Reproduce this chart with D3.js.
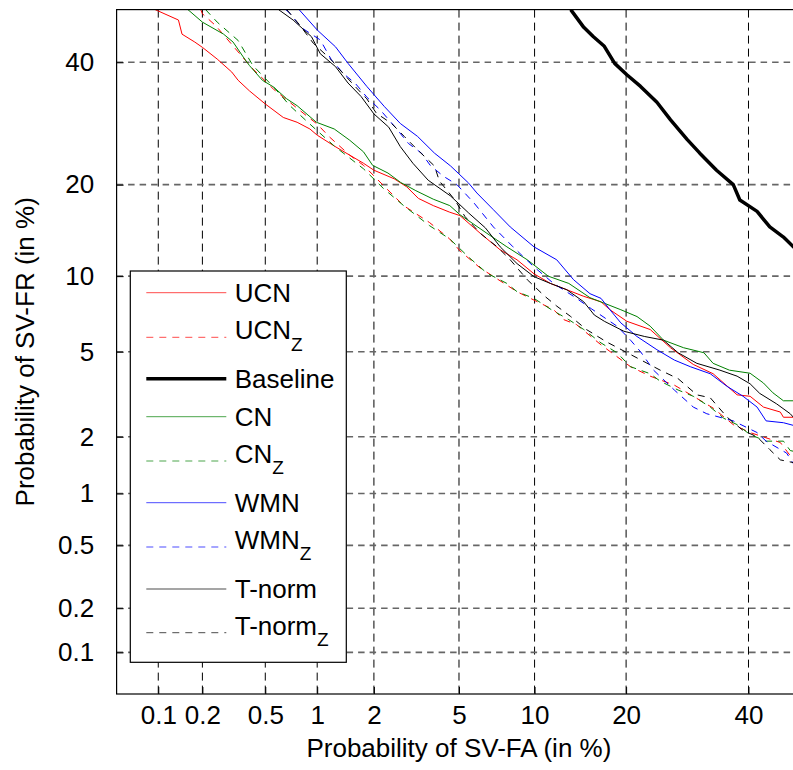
<!DOCTYPE html>
<html>
<head>
<meta charset="utf-8">
<script src="https://cdn.jsdelivr.net/npm/d3@7"></script>
<style>
  html, body { margin: 0; padding: 0; background: #fff; }
  svg { display: block; }
  text { font-family: "Liberation Sans", Arial, sans-serif; fill: #000; }
</style>
</head>
<body>
<svg id="chart" width="793" height="770"></svg>
<script>
// ---------- DATA (values in %: [P(SV-FA), P(SV-FR)]) ----------
const xTickValues = [0.1, 0.2, 0.5, 1, 2, 5, 10, 20, 40];
const yTickValues = [0.1, 0.2, 0.5, 1, 2, 5, 10, 20, 40];
const axisDomain = [0.05, 50];

const ucn = [[0.095,50],[0.138,48],[0.146,45.3],[0.178,43.8],[0.2,42.8],[0.25,40.6],[0.31,38.2],[0.34,36.7],[0.4,34.8],[0.5,32.5],[0.64,30.2],[0.77,29.4],[0.91,28.3],[1.0,27.3],[1.24,25.6],[1.5,24.2],[1.77,23.0],[2.0,22.0],[2.52,20.8],[2.9,19.7],[3.29,18.2],[3.85,17.3],[4.56,16.5],[5.05,16.1],[6.15,14.1],[7.4,12.4],[8.6,11.45],[9.95,10.2],[11.4,9.4],[13.0,8.9],[14.8,8.4],[16.8,8.0],[17.9,7.45],[20.1,6.7],[23.4,6.2],[26.5,5.2],[30.2,4.4],[33.6,4.0],[37.9,3.2],[40.3,3.15],[42.8,2.8],[46.0,2.65],[46.6,2.5],[50,2.5]];
const ucnZ = [[0.195,50],[0.2,49.2],[0.245,46.9],[0.41,39.1],[0.56,35.1],[0.87,30.5],[1.0,29.1],[1.17,27.0],[1.5,24.2],[1.77,22.7],[2.23,19.9],[2.8,17.3],[3.7,15.3],[4.56,13.5],[5.05,12.3],[6.15,10.7],[8.6,8.75],[10.5,7.9],[11.7,7.45],[12.7,6.8],[14.0,6.5],[16.8,5.35],[20.6,4.3],[23.4,3.9],[27.1,3.55],[30.2,3.15],[33.6,2.77],[37.2,2.3],[40.3,2.1],[46.0,1.87],[48.5,1.52],[50,1.5]];
const baseline = [[13.4,50],[14.8,46.6],[15.9,44.8],[17.2,43.0],[18.5,39.8],[20.1,37.7],[22.0,35.6],[24.4,32.8],[26.5,29.8],[29.2,26.6],[31.3,24.5],[34.2,22.0],[37.2,20.0],[38.4,18.0],[41.6,16.6],[44.0,14.8],[46.6,13.7],[48.5,12.7],[50,12.2]];
const cn = [[0.16,50],[0.2,47.6],[0.275,45.3],[0.316,43.8],[0.366,41.0],[0.4,39.4],[0.48,36.7],[0.56,35.5],[0.67,33.4],[0.77,32.2],[0.99,29.4],[1.24,28.3],[1.5,26.5],[1.77,24.7],[1.97,22.7],[2.35,21.6],[2.71,20.3],[3.2,19.2],[3.85,18.1],[4.56,17.3],[5.05,16.2],[6.55,14.1],[7.86,12.7],[9.4,11.45],[11.2,10.0],[13.2,9.4],[15.5,8.3],[17.2,7.9],[19.3,7.45],[21.5,7.0],[23.4,6.4],[25.4,5.6],[28.6,5.2],[32.0,4.95],[33.6,4.45],[36.5,4.15],[40.3,4.02],[42.8,3.63],[44.6,3.27],[46.6,3.0],[50,3.0]];
const cnZ = [[0.21,50],[0.25,47.6],[0.34,44.1],[0.42,39.4],[0.56,35.5],[0.7,32.2],[0.91,29.1],[1.24,25.6],[1.77,22.2],[2.23,19.5],[2.8,17.3],[3.7,14.95],[4.56,13.5],[5.5,11.7],[6.55,10.25],[7.86,9.4],[8.6,8.75],[9.95,8.25],[11.5,7.45],[13.2,6.8],[14.8,6.2],[16.8,5.45],[18.8,4.95],[20.6,4.3],[23.4,4.0],[24.9,3.7],[27.7,3.37],[30.2,3.15],[33.1,2.8],[35.5,2.47],[37.9,2.3],[40.3,2.05],[43.3,1.9],[46.6,1.9],[47.9,1.7],[50,1.65]];
const wmn = [[0.79,50],[1.0,46.1],[1.26,42.9],[1.47,39.8],[1.84,35.6],[2.25,32.1],[2.7,29.2],[3.26,27.1],[3.9,24.5],[4.6,22.6],[5.5,20.2],[5.95,18.9],[6.95,16.8],[8.1,14.8],[9.95,12.7],[12.0,11.45],[13.7,9.7],[15.5,8.6],[16.8,8.25],[17.9,7.45],[19.3,6.6],[21.5,5.8],[24.4,5.1],[27.1,4.6],[29.7,4.3],[33.1,4.0],[36.1,3.5],[39.0,3.15],[41.6,2.8],[43.3,2.4],[46.6,2.35],[48.5,2.28],[50,2.25]];
const wmnZ = [[0.66,50],[0.7,49.3],[0.81,46.6],[1.04,44.2],[1.2,40.4],[1.4,37.8],[1.6,36.2],[1.84,33.7],[2.15,31.5],[2.55,28.6],[2.95,26.0],[3.4,24.5],[3.75,22.6],[4.3,21.1],[4.9,20.0],[5.8,17.6],[6.95,14.8],[8.3,12.7],[9.95,10.8],[11.7,9.4],[13.7,8.4],[15.7,7.5],[18.8,6.4],[20.6,5.6],[22.0,5.0],[23.9,4.15],[27.1,3.37],[30.2,2.8],[32.5,2.6],[37.2,2.4],[41.6,2.1],[43.3,1.9],[47.2,1.65],[48.5,1.45],[50,1.45]];
const tnorm = [[0.6,50],[0.73,48],[0.93,44.8],[1.04,41.6],[1.26,39.2],[1.47,36.2],[1.72,33.8],[2.0,30.8],[2.37,28.6],[2.7,25.5],[3.1,23.0],[3.65,20.6],[4.6,18.5],[5.5,16.4],[6.45,14.7],[7.4,12.7],[8.6,11.1],[9.95,9.96],[11.4,9.4],[13.0,8.9],[14.8,8.0],[16.0,7.1],[17.2,6.7],[19.7,6.1],[22.6,5.8],[25.4,5.6],[27.7,4.95],[30.8,4.45],[34.8,4.15],[37.9,3.9],[40.3,3.6],[42.1,3.25],[45.3,2.9],[47.9,2.6],[48.5,2.5],[50,2.45]];
const tnormZ = [[0.67,50],[0.79,47.2],[0.95,43.6],[1.2,40.4],[1.33,38.6],[1.6,35.6],[1.84,33.4],[2.06,30.9],[2.45,29.2],[2.82,27.1],[3.26,25.0],[3.9,22.6],[4.1,20.5],[4.8,18.0],[5.3,16.0],[6.15,14.1],[7.2,12.7],[8.1,11.45],[9.4,9.7],[10.9,8.4],[12.0,7.7],[13.4,7.0],[15.1,6.2],[17.5,5.5],[21.5,4.7],[24.9,4.15],[27.7,3.8],[30.8,3.2],[33.1,3.1],[36.1,2.5],[39.0,2.15],[41.6,2.0],[44.0,1.72],[46.0,1.52],[48.5,1.47],[50,1.42]];

const seriesNames = ["UCN", "UCN|Z", "Baseline", "CN", "CN|Z", "WMN", "WMN|Z", "T-norm", "T-norm|Z"];
const seriesData = [ucn, ucnZ, baseline, cn, cnZ, wmn, wmnZ, tnorm, tnormZ];

// ---------- STYLE ----------
const seriesStyle = [
  {color: "#ff0000", dash: null, width: 1},
  {color: "#ff0000", dash: "7,6", width: 1},
  {color: "#000000", dash: null, width: 3.5},
  {color: "#008000", dash: null, width: 1},
  {color: "#008000", dash: "7,6", width: 1},
  {color: "#0000ff", dash: null, width: 1},
  {color: "#0000ff", dash: "7,6", width: 1},
  {color: "#000000", dash: null, width: 1},
  {color: "#000000", dash: "7,6", width: 1}
];

// ---------- PROBIT (inverse normal CDF, Acklam) ----------
function probit(p) {
  const a=[-3.969683028665376e+01,2.209460984245205e+02,-2.759285104469687e+02,1.383577518672690e+02,-3.066479806614716e+01,2.506628277459239e+00];
  const b=[-5.447609879822406e+01,1.615858368580409e+02,-1.556989798598866e+02,6.680131188771972e+01,-1.328068155288572e+01];
  const c=[-7.784894002430293e-03,-3.223964580411365e-01,-2.400758277161838e+00,-2.549732539343734e+00,4.374664141464968e+00,2.938163982698783e+00];
  const d=[7.784695709041462e-03,3.224671290700398e-01,2.445134137142996e+00,3.754408661907416e+00];
  const pl = 0.02425, ph = 1 - pl;
  if (p < pl) { const q = Math.sqrt(-2*Math.log(p));
    return (((((c[0]*q+c[1])*q+c[2])*q+c[3])*q+c[4])*q+c[5])/((((d[0]*q+d[1])*q+d[2])*q+d[3])*q+1); }
  if (p <= ph) { const q = p - 0.5, r = q*q;
    return (((((a[0]*r+a[1])*r+a[2])*r+a[3])*r+a[4])*r+a[5])*q/(((((b[0]*r+b[1])*r+b[2])*r+b[3])*r+b[4])*r+1); }
  const q = Math.sqrt(-2*Math.log(1-p));
  return -(((((c[0]*q+c[1])*q+c[2])*q+c[3])*q+c[4])*q+c[5])/((((d[0]*q+d[1])*q+d[2])*q+d[3])*q+1);
}

// probit-transformed scale built on d3.scaleLinear
function probitScale(domainPct, range) {
  const lin = d3.scaleLinear().domain(domainPct.map(v => probit(v / 100))).range(range);
  const s = v => lin(probit(v / 100));
  s.domain = () => domainPct.slice();
  s.range = () => lin.range();
  s.copy = () => probitScale(domainPct, range);
  return s;
}

// ---------- LAYOUT ----------
const L = 116.6, R = 801.2, T = 9.6, B = 694.0;
const xs = probitScale(axisDomain, [L, R]);
const ys = probitScale(axisDomain, [B, T]);

const svg = d3.select("#chart");
svg.append("rect").attr("width", 793).attr("height", 770).attr("fill", "#fff");

svg.append("defs").append("clipPath").attr("id", "plotclip")
  .append("rect").attr("x", L).attr("y", T).attr("width", R - L).attr("height", B - T);

// grid
const grid = svg.append("g");
grid.selectAll("line.vg").data(xTickValues).join("line")
  .attr("x1", d => xs(d)).attr("x2", d => xs(d)).attr("y1", T).attr("y2", B)
  .attr("stroke", "#000").attr("stroke-width", 1).attr("stroke-dasharray", "8,5");
grid.selectAll("line.hg").data(yTickValues).join("line")
  .attr("x1", L).attr("x2", R).attr("y1", d => ys(d)).attr("y2", d => ys(d))
  .attr("stroke", "#666").attr("stroke-width", 1.6).attr("stroke-dasharray", "6.5,5");

// axes
const fontSize = 26;
const gx = svg.append("g").attr("transform", `translate(0,${B})`)
  .call(d3.axisBottom(xs).tickValues(xTickValues).tickFormat(d => String(d))
    .tickSizeInner(-7).tickSizeOuter(0).tickPadding(11.5));
const gy = svg.append("g").attr("transform", `translate(${L},0)`)
  .call(d3.axisLeft(ys).tickValues(yTickValues).tickFormat(d => String(d))
    .tickSizeInner(-7).tickSizeOuter(0).tickPadding(22.5));
[gx, gy].forEach(g => {
  g.select(".domain").remove();
  g.selectAll(".tick line").attr("stroke", "#000");
  g.selectAll("text").attr("font-size", fontSize)
    .attr("font-family", "'Liberation Sans', Arial, sans-serif").attr("fill", "#000");
});

// curves
const line = d3.line().x(d => xs(d[0])).y(d => ys(d[1]));
const curves = svg.append("g").attr("clip-path", "url(#plotclip)");
seriesData.forEach((data, i) => {
  const st = seriesStyle[i];
  curves.append("path").datum(data)
    .attr("d", line).attr("fill", "none")
    .attr("stroke", st.color).attr("stroke-width", st.width)
    .attr("stroke-linejoin", "round")
    .attr("stroke-dasharray", st.dash);
});

// frame
svg.append("rect").attr("x", L).attr("y", T).attr("width", R - L).attr("height", B - T)
  .attr("fill", "none").attr("stroke", "#000").attr("stroke-width", 1.2);

// axis labels
svg.append("text").attr("x", (L + R) / 2).attr("y", 757)
  .attr("text-anchor", "middle").attr("font-size", fontSize)
  .text("Probability of SV-FA (in %)");
svg.append("text").attr("transform", `translate(34,${(T + B) / 2}) rotate(-90)`)
  .attr("text-anchor", "middle").attr("font-size", fontSize)
  .text("Probability of SV-FR (in %)");

// legend
const lg = {x: 130.3, y: 271, w: 216, h: 391.3};
const rowOffsets = [21.7, 66.3, 107.7, 145.7, 190, 231.7, 276, 318, 361.7];
const legend = svg.append("g");
legend.append("rect").attr("x", lg.x).attr("y", lg.y).attr("width", lg.w).attr("height", lg.h)
  .attr("fill", "#fff").attr("stroke", "#000").attr("stroke-width", 1.2);
seriesNames.forEach((name, i) => {
  const st = seriesStyle[i];
  const yy = lg.y + rowOffsets[i];
  legend.append("line").attr("x1", lg.x + 16).attr("x2", lg.x + 96).attr("y1", yy).attr("y2", yy)
    .attr("stroke", st.color).attr("stroke-width", st.width).attr("stroke-dasharray", st.dash)
    .attr("opacity", st.width > 2 ? 1 : 0.7);
  const parts = name.split("|");
  const t = legend.append("text").attr("x", lg.x + 104.4)
    .attr("y", yy + (parts.length > 1 ? 2 : 9)).attr("font-size", fontSize);
  t.append("tspan").text(parts[0]);
  if (parts.length > 1) {
    t.append("tspan").attr("font-size", 19).attr("dy", 11.4).text(parts[1]);
  }
});
</script>
</body>
</html>
